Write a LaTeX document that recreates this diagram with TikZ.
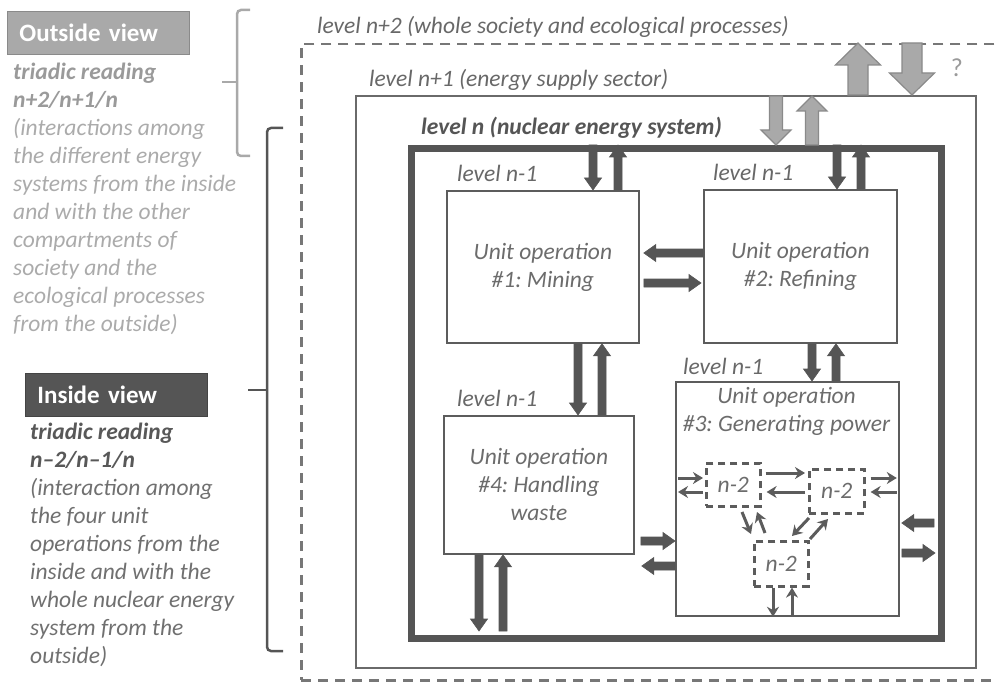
\documentclass[tikz,border=0pt]{standalone}
\usepackage{fontspec}
\setmainfont{Carlito}
\usetikzlibrary{calc,arrows.meta}
\frenchspacing

\definecolor{cDark}{HTML}{555555}
\definecolor{cBox}{HTML}{5C5C5C}
\definecolor{cSector}{HTML}{6A6A6A}
\definecolor{cDash}{HTML}{777777}
\definecolor{cGrayFill}{HTML}{A9A9A9}
\definecolor{cGrayLine}{HTML}{8A8A8A}
\definecolor{cLbl}{HTML}{686868}
\definecolor{cUnit}{HTML}{6C6C6C}
\definecolor{cOutBold}{HTML}{9A9A9A}
\definecolor{cOutText}{HTML}{ABABAB}
\definecolor{cInBold}{HTML}{585858}
\definecolor{cInText}{HTML}{707070}

% broad arrow drawn as a polygon between two points
% #1 style, #2 start, #3 end, #4 half shaft width, #5 half head width, #6 head length
\newcommand\FatArrow[6]{%
  \path #2 coordinate (faS) #3 coordinate (faE);
  \coordinate (faB) at ($(faE)!#6!(faS)$);
  \draw[#1] ($(faS)!#4!90:(faE)$) -- ($(faB)!#4!90:(faE)$) -- ($(faB)!#5!90:(faE)$)
    -- (faE) -- ($(faB)!#5!-90:(faE)$) -- ($(faB)!#4!-90:(faE)$) -- ($(faS)!#4!-90:(faE)$) -- cycle;}
\newcommand\DarkArrow[2]{\FatArrow{darkfat}{#1}{#2}{4pt}{8.5pt}{12pt}}
\newcommand\GrayArrow[2]{\FatArrow{grayfat}{#1}{#2}{6.5pt}{15pt}{15pt}}
\newcommand\BigArrow[2]{\FatArrow{grayfat}{#1}{#2}{10pt}{22.5pt}{22pt}}

\begin{document}
\begin{tikzpicture}[x=1pt,y=-1pt,
  txt/.style={font=\fontsize{23.5}{28}\selectfont\itshape},
  lbl/.style={txt, text=cLbl, anchor=west, inner sep=0pt},
  unitbox/.style={draw=cBox, line width=1.8pt, fill=white, anchor=north west, inner sep=0pt,
    txt, text=cUnit, align=center},
  subbox/.style={draw=cBox, line width=2.6pt, dash pattern=on 7pt off 5pt, anchor=north west,
    inner sep=0pt, txt, text=cUnit},
  viewbox/.style={anchor=north west, minimum width=182pt, minimum height=43pt, inner xsep=12pt,
    text width=158pt, align=left, font=\fontsize{25}{30}\selectfont\bfseries, text=white},
  darkfat/.style={fill=cDark, draw=cDark, line width=0.6pt, line join=miter},
  grayfat/.style={fill=cGrayFill, draw=cGrayLine, line width=1.2pt, line join=miter},
  thinarr/.style={draw=cBox, line width=3pt, -{Stealth[length=10pt,width=12pt]}},
  brace/.style={line width=2.5pt, rounded corners=4pt}]

\useasboundingbox (0,0) rectangle (997,682);

% nested levels
\node[draw=cDash, line width=2.5pt, dash pattern=on 10pt off 7pt, anchor=north west, inner sep=0pt,
  minimum width=700pt, minimum height=636pt] (lvlA) at (300,43) {};
\node[draw=cSector, line width=2pt, anchor=north west, inner sep=0pt,
  minimum width=620pt, minimum height=572pt] (lvlB) at (355,95) {};
\node[draw=cDark, line width=7pt, anchor=north west, inner sep=0pt,
  minimum width=530pt, minimum height=490pt] (lvlN) at (408,145) {};

\node[lbl] (lblA) at (317,27) {level n+2 (whole society and ecological processes)};
\node[lbl] (lblB) at (369,80) {level n+1 (energy supply sector)};
\node[lbl, font=\fontsize{23.5}{28}\selectfont\bfseries\itshape, text=cDark] (lblN) at (421,128)
  {level n (nuclear energy system)};
\node[text=cOutBold, anchor=center, font=\fontsize{26}{30}\selectfont] (qm) at (957,68) {?};

% unit operations
\node[unitbox, minimum width=192pt, minimum height=152pt] (op1) at (446,190)
  {Unit operation\\\#1: Mining};
\node[unitbox, minimum width=193pt, minimum height=153pt] (op2) at (703,189)
  {Unit operation\\\#2: Refining};
\node[unitbox, minimum width=223pt, minimum height=234pt] (op3) at (675,381) {};
\node[unitbox, minimum width=190pt, minimum height=138pt] (op4) at (443,415)
  {Unit operation\\\#4: Handling\\waste};
\node[txt, text=cUnit, align=center, anchor=north, inner sep=0pt] (op3t) at (786.5,387)
  {Unit operation\\\#3: Generating power};

\node[lbl] (l1) at (457,173) {level n-1};
\node[lbl] (l2) at (713,172) {level n-1};
\node[lbl] (l3) at (683,366) {level n-1};
\node[lbl] (l4) at (457,398) {level n-1};

% sub-units of operation #3
\node[subbox, minimum width=54pt, minimum height=43pt] (sA) at (705,462) {n-2};
\node[subbox, minimum width=55pt, minimum height=44pt] (sB) at (808,468) {n-2};
\node[subbox, minimum width=54pt, minimum height=45pt] (sC) at (753,540) {n-2};

% exchanges between levels
\BigArrow{(858,0 |- lvlB.north)}{(858,0 |- lvlA.north)}
\BigArrow{(912,0 |- lvlA.north)}{(912,0 |- lvlB.north)}
\GrayArrow{(776,96)}{(776,0 |- lvlN.north)}
\GrayArrow{(812,0 |- lvlN.north)}{(812,96)}

\DarkArrow{(593,0 |- lvlN.north)}{(593,0 |- op1.north)}
\DarkArrow{(618,0 |- op1.north)}{(618,0 |- lvlN.north)}
\DarkArrow{(837,0 |- lvlN.north)}{(837,0 |- op2.north)}
\DarkArrow{(861,0 |- op2.north)}{(861,0 |- lvlN.north)}

\DarkArrow{(op2.west |- 0,253)}{($(op1.east |- 0,253)+(4,0)$)}
\DarkArrow{($(op1.east |- 0,283)+(4,0)$)}{($(op2.west |- 0,283)+(-2,0)$)}

\DarkArrow{(578,0 |- op1.south)}{(578,0 |- op4.north)}
\DarkArrow{(602,0 |- op4.north)}{(602,0 |- op1.south)}
\DarkArrow{(812,0 |- op2.south)}{(812,0 |- op3.north)}
\DarkArrow{(836,0 |- op3.north)}{(836,0 |- op2.south)}

\DarkArrow{($(op4.east |- 0,541)+(6,0)$)}{(op3.west |- 0,541)}
\DarkArrow{(op3.west |- 0,566)}{($(op4.east |- 0,566)+(7,0)$)}
\DarkArrow{(479,0 |- op4.south)}{(479,631)}
\DarkArrow{(503,631)}{(503,0 |- op4.south)}

\DarkArrow{(934,523)}{($(op3.east |- 0,523)+(2,0)$)}
\DarkArrow{($(op3.east |- 0,553)+(2,0)$)}{(935,553)}

% exchanges between sub-units
\draw[thinarr] ($(op3.west |- 0,478)+(3,0)$) -- ($(sA.west |- 0,478)+(-2,0)$);
\draw[thinarr] ($(sA.west |- 0,492)+(-2,0)$) -- ($(op3.west |- 0,492)+(3,0)$);
\draw[thinarr] ($(sA.east |- 0,473)+(4,0)$) -- ($(sB.west |- 0,473)+(-3,0)$);
\draw[thinarr] ($(sB.west |- 0,492)+(-3,0)$) -- ($(sA.east |- 0,492)+(5,0)$);
\draw[thinarr] ($(sB.east |- 0,478)+(5,0)$) -- ($(op3.east |- 0,478)+(-3,0)$);
\draw[thinarr] ($(op3.east |- 0,492)+(-3,0)$) -- ($(sB.east |- 0,492)+(5,0)$);
\draw[thinarr] (742,512) -- (751,534);
\draw[thinarr] (765,533) -- (757,512);
\draw[thinarr] (809,518) -- (792,536);
\draw[thinarr] (810,539) -- (828,519);
\draw[thinarr] (773,0 |- sC.south) -- (773,0 |- op3.south);
\draw[thinarr] (792,0 |- op3.south) -- (792,0 |- sC.south);

% reading keys on the left
\node[viewbox, fill=cGrayFill, draw=cGrayLine, line width=1pt] (outv) at (7,11) {Outside view};
\node[txt, anchor=north west, align=left, inner sep=0pt, text=cOutText] (outt) at (13,63)
  {\textcolor{cOutBold}{\bfseries triadic reading}\\
   \textcolor{cOutBold}{\bfseries n+2/n+1/n}\\
   (interactions among\\the different energy\\systems from the inside\\and with the other\\
   compartments of\\society and the\\ecological processes\\from the outside)};

\node[viewbox, fill=cDark, draw=cDark!80!black, line width=1pt] (inv) at (25,373) {Inside view};
\node[txt, anchor=north west, align=left, inner sep=0pt, text=cInText] (intt) at (30,423)
  {\textcolor{cInBold}{\bfseries triadic reading}\\
   \textcolor{cInBold}{\bfseries n--2/n--1/n}\\
   (interaction among\\the four unit\\operations from the\\inside and with the\\
   whole nuclear energy\\system from the\\outside)};

% braces
\draw[brace, draw=cGrayFill] (250,10) -- (237,10) -- (237,156) -- (250,156);
\draw[brace, draw=cGrayFill, rounded corners=0pt] (222,82) -- (237,82);
\draw[brace, draw=cDark] (283,128) -- (267,128) -- (267,651) -- (283,651);
\draw[brace, draw=cDark, rounded corners=0pt] (248,390) -- (267,390);
\end{tikzpicture}
\end{document}
